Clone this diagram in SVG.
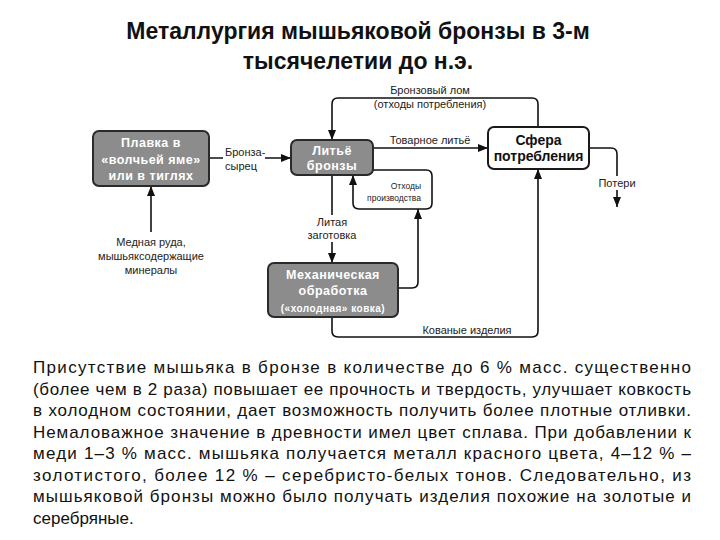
<svg xmlns="http://www.w3.org/2000/svg" width="720" height="540" viewBox="0 0 720 540">
<defs>
<marker id="ah" markerUnits="userSpaceOnUse" markerWidth="10" markerHeight="8" refX="10" refY="4" orient="auto">
<path d="M0,0 L10,4 L0,8 z" fill="#111"/>
</marker>
<style>
.title{font-family:"Liberation Sans",Arial,sans-serif;font-weight:bold;font-size:23px;fill:#111;text-anchor:middle}
.gbox{fill:#8c8c8c;stroke:#2a2a2a;stroke-width:2}
.wbox{fill:#fff;stroke:#1a1a1a;stroke-width:2}
.gt{font-family:"Liberation Sans",Arial,sans-serif;font-weight:bold;font-size:12.5px;fill:#fff;text-anchor:middle;letter-spacing:0.5px}
.wt{font-family:"Liberation Sans",Arial,sans-serif;font-weight:bold;font-size:14px;fill:#111;text-anchor:middle}
.lab{font-family:"Liberation Sans",Arial,sans-serif;font-size:11px;fill:#222}
.sm{font-family:"Liberation Sans",Arial,sans-serif;font-size:8.5px;fill:#222}
.c{text-anchor:middle}
.ln{fill:none;stroke:#111;stroke-width:1.6}
.bg{fill:#fff}
.para{font-family:"Liberation Sans",Arial,sans-serif;font-size:17px;fill:#111}
</style>
</defs>
<rect width="720" height="540" fill="#fff"/>
<text class="title" x="358" y="39">Металлургия мышьяковой бронзы в 3-м</text>
<text class="title" x="358" y="69">тысячелетии до н.э.</text>

<g id="connectors">
<path class="ln" d="M538,127 V104 Q538,98 532,98 H338 Q332,98 332,104 V140" marker-end="url(#ah)"/>
<path class="ln" d="M373,148 H488" marker-end="url(#ah)"/>
<path class="ln" d="M373,170 H426 Q432,170 432,176 V203 Q432,209 426,209 H359 Q353,209 353,203 V175" marker-end="url(#ah)"/>
<path class="ln" d="M398,288 H412 Q418,288 418,282 V209" marker-end="url(#ah)"/>
<path class="ln" d="M332,175 V263" marker-end="url(#ah)"/>
<path class="ln" d="M332,317 V331 Q332,337 338,337 H532 Q538,337 538,331 V169" marker-end="url(#ah)"/>
<path class="ln" d="M589,148 H611 Q617,148 617,154 V207" marker-end="url(#ah)"/>
<path class="ln" d="M151,232 V186" marker-end="url(#ah)"/>
<path class="ln" d="M209,158 H291" marker-end="url(#ah)"/>
<rect class="bg" x="223" y="146" width="42" height="28"/>
<text class="lab" x="225" y="156">Бронза-</text>
<text class="lab" x="225" y="170">сырец</text>
<text class="lab c" x="430" y="94">Бронзовый лом</text>
<text class="lab c" x="430" y="108">(отходы потребления)</text>
<text class="lab c" x="430" y="144">Товарное литьё</text>
<text class="sm" x="421" y="189" text-anchor="end">Отходы</text>
<text class="sm" x="421" y="201" text-anchor="end">производства</text>
<rect class="bg" x="303" y="215" width="60" height="27"/>
<text class="lab c" x="332" y="226">Литая</text>
<text class="lab c" x="332" y="239">заготовка</text>
<text class="lab c" x="467" y="334">Кованые изделия</text>
<rect class="bg" x="597" y="176" width="40" height="14"/>
<text class="lab c" x="617" y="187">Потери</text>
<text class="lab c" x="151" y="246">Медная руда,</text>
<text class="lab c" x="151" y="260">мышьяксодержащие</text>
<text class="lab c" x="151" y="274">минералы</text>
</g>

<g id="n-plavka">
<rect class="gbox" x="93" y="131" width="116" height="55" rx="6"/>
<text class="gt" x="151" y="147">Плавка в</text>
<text class="gt" x="151" y="163.5">«волчьей яме»</text>
<text class="gt" x="151" y="180">или в тиглях</text>
</g>
<g id="n-lite">
<rect class="gbox" x="291" y="140" width="82" height="35" rx="6"/>
<text class="gt" x="332" y="155">Литьё</text>
<text class="gt" x="332" y="170">бронзы</text>
</g>
<g id="n-sfera">
<rect class="wbox" x="488" y="127" width="101" height="42" rx="6"/>
<text class="wt" x="538.5" y="145">Сфера</text>
<text class="wt" x="538.5" y="161">потребления</text>
</g>
<g id="n-mech">
<rect class="gbox" x="268" y="263" width="130" height="54" rx="6"/>
<text class="gt" x="333" y="279">Механическая</text>
<text class="gt" x="333" y="295">обработка</text>
<text class="gt" x="333" y="311.5" style="font-size:10px">(«холодная» ковка)</text>
</g>

<g id="paragraph" class="para">
<text x="33" y="373" textLength="658" lengthAdjust="spacing">Присутствие мышьяка в бронзе в количестве до 6 % масс. существенно</text>
<text x="33" y="394.5" textLength="658" lengthAdjust="spacing">(более чем в 2 раза) повышает ее прочность и твердость, улучшает ковкость</text>
<text x="33" y="416" textLength="658" lengthAdjust="spacing">в холодном состоянии, дает возможность получить более плотные отливки.</text>
<text x="33" y="437.5" textLength="658" lengthAdjust="spacing">Немаловажное значение в древности имел цвет сплава. При добавлении к</text>
<text x="33" y="459" textLength="658" lengthAdjust="spacing">меди 1–3 % масс. мышьяка получается металл красного цвета, 4–12 % –</text>
<text x="33" y="480.5" textLength="658" lengthAdjust="spacing">золотистого, более 12 % – серебристо-белых тонов. Следовательно, из</text>
<text x="33" y="502" textLength="658" lengthAdjust="spacing">мышьяковой бронзы можно было получать изделия похожие на золотые и</text>
<text x="33" y="523.5">серебряные.</text>
</g>
</svg>
